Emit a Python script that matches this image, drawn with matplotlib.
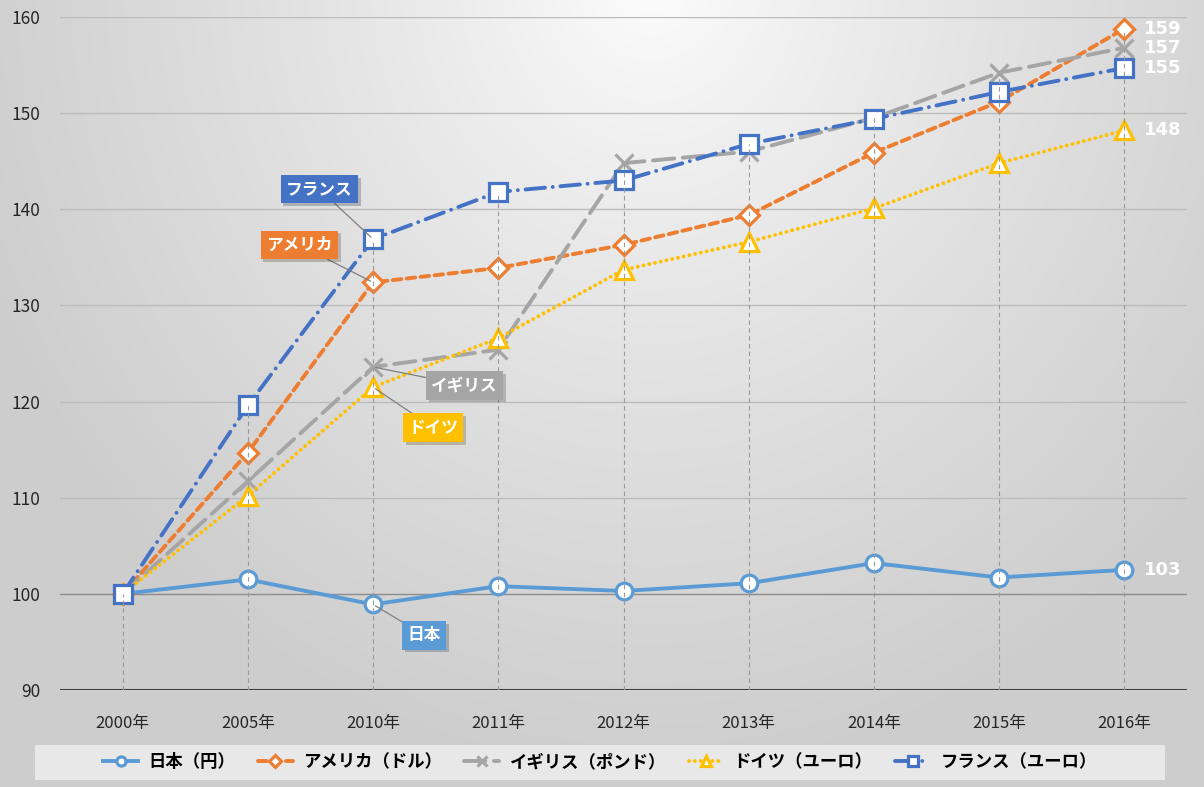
import numpy as np
import matplotlib
matplotlib.use("Agg")
import matplotlib.pyplot as plt
import matplotlib.patheffects as pe
from matplotlib.patches import Rectangle

plt.rcParams['font.family'] = ['Noto Sans CJK JP', 'DejaVu Sans']

categories = ["2000年", "2005年", "2010年", "2011年", "2012年", "2013年", "2014年", "2015年", "2016年"]
japan   = [100, 101.5, 98.9, 100.8, 100.3, 101.1, 103.2, 101.7, 102.5]
america = [100, 114.7, 132.4, 133.9, 136.3, 139.4, 145.9, 151.2, 158.8]
uk      = [100, 111.7, 123.6, 125.4, 144.8, 146.0, 149.5, 154.2, 156.8]
germany = [100, 110.2, 121.5, 126.6, 133.7, 136.6, 140.1, 144.8, 148.2]
france  = [100, 119.6, 136.9, 141.8, 143.0, 146.8, 149.4, 152.2, 154.7]

legend_labels = ["日本（円）", "アメリカ（ドル）", "イギリス（ポンド）", "ドイツ（ユーロ）", "フランス（ユーロ）"]
callout_labels = ["日本", "アメリカ", "イギリス", "ドイツ", "フランス"]
end_labels = ["103", "159", "157", "148", "155"]
yticks = [90, 100, 110, 120, 130, 140, 150, 160]

series = [japan, america, uk, germany, france]
colors = ["#5B9BD5", "#ED7D31", "#A5A5A5", "#FFC000", "#4472C4"]
styles = [dict(ls='-', marker='o'),
          dict(ls=(0, (2.2, 1.4)), marker='D'),
          dict(ls=(0, (5.5, 2.2)), marker='x'),
          dict(ls=(0, (0.01, 1.5)), marker='^'),
          dict(ls=(0, (5.0, 2.0, 0.01, 2.0)), marker='s')]
msizes = [12, 10.5, 13, 12.5, 12.5]

fig = plt.figure(figsize=(12.04, 7.87), dpi=100)

# background gradient
bg = fig.add_axes([0, 0, 1, 1], zorder=-10)
H, W = 787, 1204
yy, xx = np.mgrid[0:H, 0:W]
d = np.sqrt(((xx - 650) / 720.0) ** 2 + ((yy + 20) / 800.0) ** 2)
d = np.clip(d, 0, 1)
v = 0.995 - 0.19 * d ** 0.8
img = np.dstack([v, v, v])
bg.imshow(img, aspect='auto', extent=[0, 1, 0, 1])
bg.axis('off')

ax = fig.add_axes([60 / 1204, 97 / 787, 1127 / 1204, 673 / 787])
ax.set_facecolor('none')
x = np.arange(len(categories))
ax.set_xlim(-0.5, len(categories) - 0.5)
ax.set_ylim(90, 160)

for yv in yticks[1:]:
    ax.axhline(yv, color='#bcbcbc' if yv != 100 else '#8c8c8c', lw=1, zorder=1)
ax.axhline(90, color='#404040', lw=2.2, zorder=2)

tops = np.max(np.array(series), axis=0)
ax.vlines(x, 90, tops, colors='#9a9a9a', linestyles=(0, (4, 3)), lw=0.8, zorder=6)

handles = []
for s, c, st, ms in zip(series, colors, styles, msizes):
    mfc = c if st['marker'] == 'x' else 'white'
    h, = ax.plot(x, s, color=c, lw=2.8, ls=st['ls'], marker=st['marker'],
                 markersize=ms, markerfacecolor=mfc, markeredgecolor=c,
                 markeredgewidth=2.3, zorder=4, dash_capstyle='round')
    handles.append(h)

# end labels
for s, lab in zip(series, end_labels):
    ax.annotate(lab, (x[-1], s[-1]), xytext=(14, 0), textcoords='offset points',
                va='center', ha='left', color='white', fontsize=13, fontweight='bold',
                family=['DejaVu Sans'], zorder=8)

# callouts
callout_pos = [(2.41, 95.7), (1.41, 136.3), (2.73, 121.7), (2.48, 117.3), (1.57, 142.1)]
for s, c, lab, (tx, ty) in zip(series, colors, callout_labels, callout_pos):
    t = ax.annotate(lab, (x[2], s[2]), xytext=(tx, ty), textcoords='data',
                    ha='center', va='center', color='white', fontsize=12, fontweight='bold',
                    bbox=dict(boxstyle='square,pad=0.32', fc=c, ec='none'),
                    arrowprops=dict(arrowstyle='-', color='#7f7f7f', lw=0.9,
                                    shrinkA=0, shrinkB=2),
                    zorder=9)
    t.get_bbox_patch().set_path_effects([pe.SimplePatchShadow(offset=(2, -2), alpha=0.25), pe.Normal()])

ax.set_xticks(x)
ax.set_xticklabels(categories, fontsize=12, color='#262626')
ax.set_yticks(yticks)
ax.set_yticklabels([str(t) for t in yticks], fontsize=12.5, color='#262626')
ax.tick_params(axis='both', length=0)
ax.tick_params(axis='x', pad=18)
ax.tick_params(axis='y', pad=14)
for sp in ax.spines.values():
    sp.set_visible(False)

# legend box
fig.patches.append(Rectangle((35 / 1204, 1 - 780 / 787), 1130 / 1204, 35 / 787,
                             transform=fig.transFigure, fc='#f2f2f2', alpha=0.75,
                             ec='none', zorder=0))
leg = fig.legend(handles, legend_labels, loc='center', ncol=5,
                 bbox_to_anchor=(600 / 1204, 1 - 762 / 787),
                 prop=dict(weight='bold', size=12.5), handlelength=2.0,
                 handletextpad=0.6, columnspacing=1.3, frameon=False,
                 markerscale=0.55)

fig.savefig('out.png', dpi=100)
